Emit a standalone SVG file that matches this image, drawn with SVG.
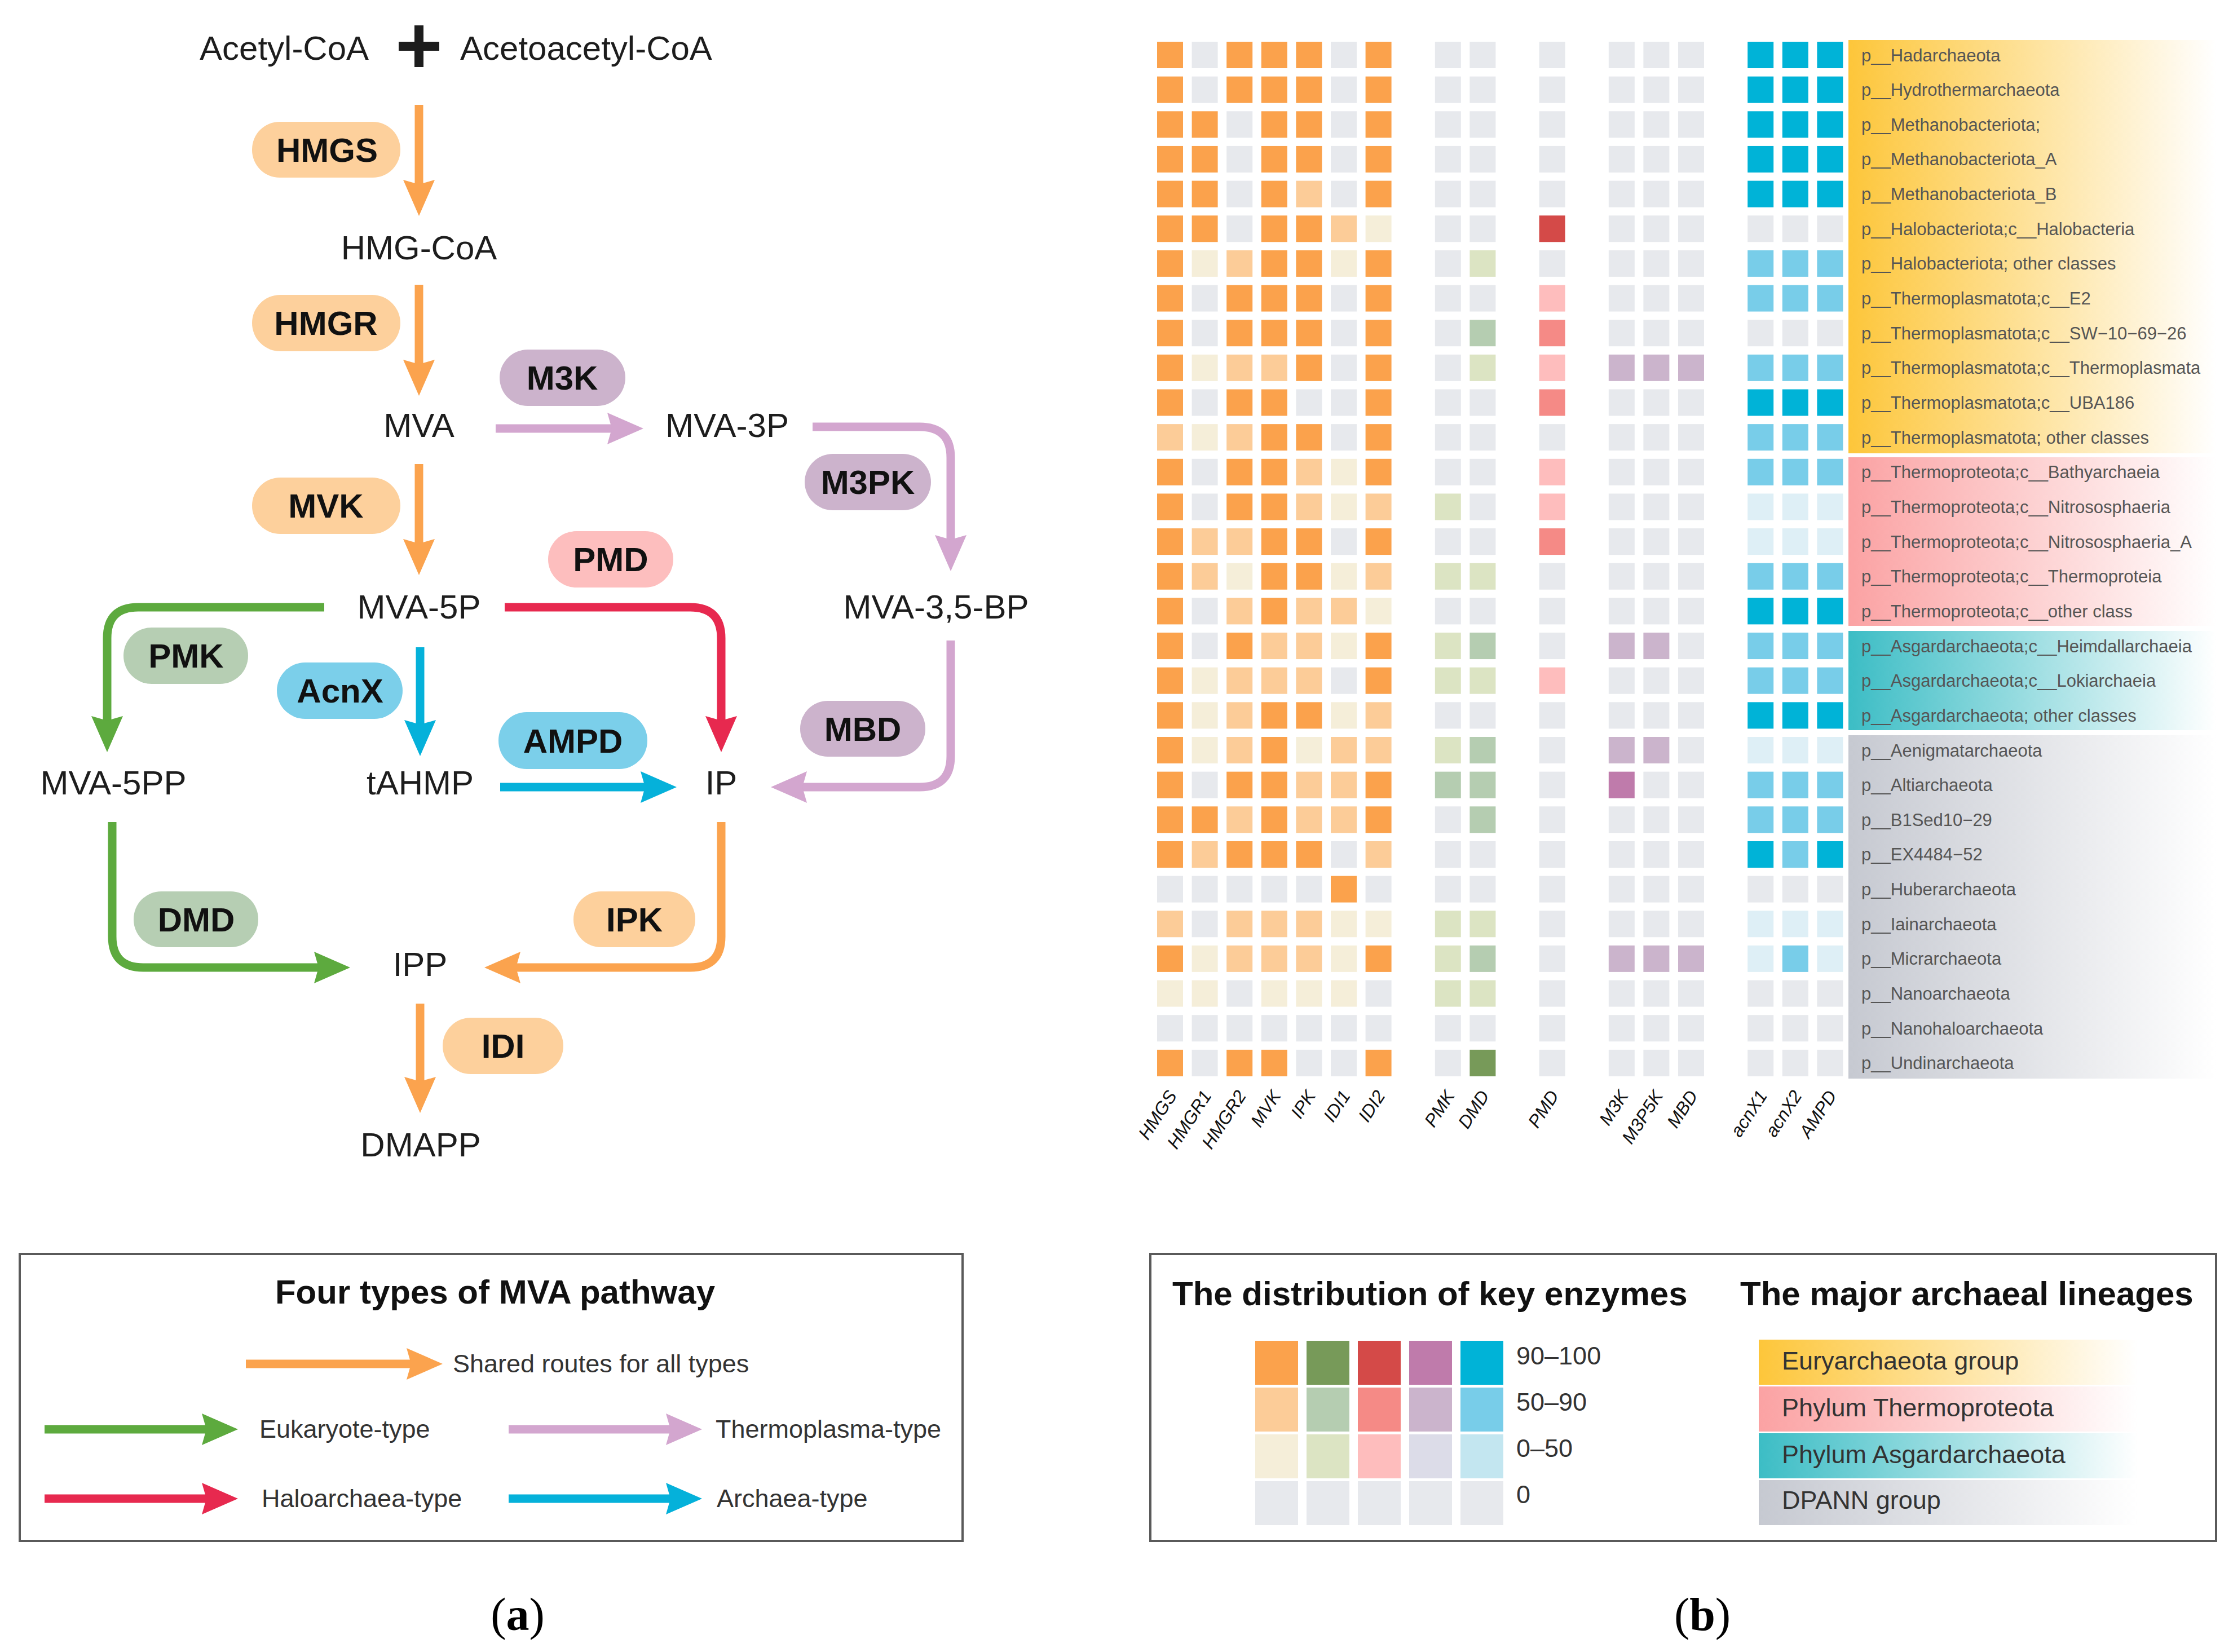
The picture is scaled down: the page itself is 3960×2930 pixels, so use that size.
<svg xmlns="http://www.w3.org/2000/svg" xmlns:xlink="http://www.w3.org/1999/xlink" width="3960" height="2930" viewBox="0 0 3960 2930">
<style>
text{font-family:"Liberation Sans",Arial,sans-serif}
.ent{font-size:60px;fill:#1d1d1d;text-anchor:middle}
.enz{font-size:60px;font-weight:bold;fill:#111;text-anchor:middle}
.po{fill:#FDD09C}.pp{fill:#CCB3CC}.pr{fill:#FDBEBE}.pg{fill:#B6CEB3}.pb{fill:#7BCFEA}
.ln{fill:none;stroke-width:15}
.so{stroke:#FBA34E}.sg{stroke:#5DAA3E}.sr{stroke:#E7294F}.sp{stroke:#D3A6CF}.sb{stroke:#05B1DA}
.z{fill:#E7E9ED}.o1{fill:#F5EED9}.o2{fill:#FCCC98}.o3{fill:#FBA24C}
.e1{fill:#DCE4C3}.e2{fill:#B5CDB1}.e3{fill:#779A59}
.r1{fill:#FEBDBD}.r2{fill:#F58A86}.r3{fill:#D44A48}
.p1{fill:#DCDCE8}.p2{fill:#CBB4CC}.p3{fill:#BF7BAB}
.b1{fill:#DEEFF6}.b2{fill:#78CDE9}.b3{fill:#00B3D7}.lb1{fill:#C3E6F0}
.lab{font-size:31px;fill:#555}
.col{font-size:32px;font-style:italic;fill:#111;text-anchor:end}
.box{fill:none;stroke:#5a5a5a;stroke-width:4}
.ttl{font-size:60px;font-weight:bold;fill:#111}
.lt{font-size:45px;fill:#333}
</style>
<defs>
<rect id="c" width="46" height="47"/>
<marker id="mo" viewBox="0 0 64 56" refX="30" refY="28" markerWidth="64" markerHeight="56" markerUnits="userSpaceOnUse" orient="auto"><path d="M0,0 L64,28 L0,56 L8,28 Z" fill="#FBA34E"/></marker>
<marker id="mg" viewBox="0 0 64 56" refX="30" refY="28" markerWidth="64" markerHeight="56" markerUnits="userSpaceOnUse" orient="auto"><path d="M0,0 L64,28 L0,56 L8,28 Z" fill="#5DAA3E"/></marker>
<marker id="mr" viewBox="0 0 64 56" refX="30" refY="28" markerWidth="64" markerHeight="56" markerUnits="userSpaceOnUse" orient="auto"><path d="M0,0 L64,28 L0,56 L8,28 Z" fill="#E7294F"/></marker>
<marker id="mp" viewBox="0 0 64 56" refX="30" refY="28" markerWidth="64" markerHeight="56" markerUnits="userSpaceOnUse" orient="auto"><path d="M0,0 L64,28 L0,56 L8,28 Z" fill="#D3A6CF"/></marker>
<marker id="mb" viewBox="0 0 64 56" refX="30" refY="28" markerWidth="64" markerHeight="56" markerUnits="userSpaceOnUse" orient="auto"><path d="M0,0 L64,28 L0,56 L8,28 Z" fill="#05B1DA"/></marker>
<linearGradient id="gy"><stop offset="0" stop-color="#FDC63A"/><stop offset="1" stop-color="#FDC63A" stop-opacity="0"/></linearGradient>
<linearGradient id="gp"><stop offset="0" stop-color="#FBA2A3"/><stop offset="1" stop-color="#FBA2A3" stop-opacity="0"/></linearGradient>
<linearGradient id="gt"><stop offset="0" stop-color="#3CBDC5"/><stop offset="1" stop-color="#3CBDC5" stop-opacity="0"/></linearGradient>
<linearGradient id="gd"><stop offset="0" stop-color="#C6C9D1"/><stop offset="1" stop-color="#C6C9D1" stop-opacity="0"/></linearGradient>
</defs>
<rect width="3960" height="2930" fill="#fff"/>

<!-- ===== Panel (a): pathway ===== -->
<g id="connectors">
<path class="ln so" d="M743,186 V349" marker-end="url(#mo)"/>
<path class="ln so" d="M743,505 V668" marker-end="url(#mo)"/>
<path class="ln so" d="M743,823 V986" marker-end="url(#mo)"/>
<path class="ln sp" d="M879,760 H1107" marker-end="url(#mp)"/>
<path class="ln sp" d="M1441,757 H1631 Q1686,757 1686,812 V979" marker-end="url(#mp)"/>
<path class="ln sg" d="M575,1077 H245 Q190,1077 190,1132 V1300" marker-end="url(#mg)"/>
<path class="ln sr" d="M895,1077 H1224 Q1279,1077 1279,1132 V1300" marker-end="url(#mr)"/>
<path class="ln sb" d="M745,1148 V1307" marker-end="url(#mb)"/>
<path class="ln sb" d="M887,1396 H1166" marker-end="url(#mb)"/>
<path class="ln sp" d="M1686,1136 V1341 Q1686,1396 1631,1396 H1401" marker-end="url(#mp)"/>
<path class="ln so" d="M1279,1458 V1661 Q1279,1716 1224,1716 H893" marker-end="url(#mo)"/>
<path class="ln sg" d="M199,1458 V1661 Q199,1716 254,1716 H587" marker-end="url(#mg)"/>
<path class="ln so" d="M745,1780 V1940" marker-end="url(#mo)"/>
</g>

<g id="n-acetylcoa"><text class="ent" x="354" y="106" style="text-anchor:start">Acetyl-CoA</text></g>
<g id="n-plus"><path d="M707,82 H779 M743,45 V119" stroke="#1d1d1d" stroke-width="16" fill="none"/></g>
<g id="n-acetoacetylcoa"><text class="ent" x="816" y="106" style="text-anchor:start">Acetoacetyl-CoA</text></g>
<g id="n-hmgcoa"><text class="ent" x="743" y="460">HMG-CoA</text></g>
<g id="n-mva"><text class="ent" x="743" y="775">MVA</text></g>
<g id="n-mva3p"><text class="ent" x="1180" y="775" style="text-anchor:start">MVA-3P</text></g>
<g id="n-mva5p"><text class="ent" x="743" y="1097">MVA-5P</text></g>
<g id="n-mva35bp"><text class="ent" x="1660" y="1097">MVA-3,5-BP</text></g>
<g id="n-mva5pp"><text class="ent" x="201" y="1409">MVA-5PP</text></g>
<g id="n-tahmp"><text class="ent" x="745" y="1409">tAHMP</text></g>
<g id="n-ip"><text class="ent" x="1279" y="1409">IP</text></g>
<g id="n-ipp"><text class="ent" x="745" y="1731">IPP</text></g>
<g id="n-dmapp"><text class="ent" x="746" y="2051">DMAPP</text></g>

<g id="e-hmgs"><rect class="po" x="447" y="216" width="263" height="99" rx="49"/><text class="enz" x="580" y="287">HMGS</text></g>
<g id="e-hmgr"><rect class="po" x="447" y="523" width="263" height="100" rx="50"/><text class="enz" x="578" y="594">HMGR</text></g>
<g id="e-mvk"><rect class="po" x="447" y="847" width="263" height="100" rx="50"/><text class="enz" x="578" y="918">MVK</text></g>
<g id="e-m3k"><rect class="pp" x="886" y="620" width="223" height="100" rx="50"/><text class="enz" x="997" y="691">M3K</text></g>
<g id="e-m3pk"><rect class="pp" x="1427" y="805" width="224" height="100" rx="50"/><text class="enz" x="1539" y="876">M3PK</text></g>
<g id="e-pmd"><rect class="pr" x="972" y="942" width="222" height="100" rx="50"/><text class="enz" x="1083" y="1013">PMD</text></g>
<g id="e-pmk"><rect class="pg" x="219" y="1113" width="221" height="100" rx="50"/><text class="enz" x="330" y="1184">PMK</text></g>
<g id="e-acnx"><rect class="pb" x="491" y="1175" width="223" height="100" rx="50"/><text class="enz" x="603" y="1246">AcnX</text></g>
<g id="e-ampd"><rect class="pb" x="884" y="1263" width="264" height="101" rx="50"/><text class="enz" x="1016" y="1335">AMPD</text></g>
<g id="e-mbd"><rect class="pp" x="1419" y="1243" width="222" height="99" rx="49"/><text class="enz" x="1530" y="1314">MBD</text></g>
<g id="e-ipk"><rect class="po" x="1017" y="1581" width="216" height="99" rx="49"/><text class="enz" x="1125" y="1652">IPK</text></g>
<g id="e-dmd"><rect class="pg" x="237" y="1581" width="221" height="99" rx="49"/><text class="enz" x="348" y="1652">DMD</text></g>
<g id="e-idi"><rect class="po" x="785" y="1805" width="214" height="100" rx="50"/><text class="enz" x="892" y="1876">IDI</text></g>

<!-- Legend (a) -->
<g id="legend-a">
<rect class="box" x="35" y="2224" width="1672" height="509"/>
<text class="ttl" x="878" y="2312" text-anchor="middle">Four types of MVA pathway</text>
<path class="ln so" d="M436,2419 H751" marker-end="url(#mo)"/>
<text class="lt" x="803" y="2434">Shared routes for all types</text>
<path class="ln sg" d="M79,2535 H388" marker-end="url(#mg)"/>
<text class="lt" x="460" y="2550">Eukaryote-type</text>
<path class="ln sp" d="M902,2535 H1211" marker-end="url(#mp)"/>
<text class="lt" x="1269" y="2550">Thermoplasma-type</text>
<path class="ln sr" d="M79,2658 H388" marker-end="url(#mr)"/>
<text class="lt" x="464" y="2673">Haloarchaea-type</text>
<path class="ln sb" d="M902,2658 H1211" marker-end="url(#mb)"/>
<text class="lt" x="1271" y="2673">Archaea-type</text>
</g>

<!-- ===== Panel (b): heatmap ===== -->
<g id="lineage-bands">
<rect x="3278" y="71" width="652" height="733" fill="url(#gy)"/>
<rect x="3278" y="811" width="652" height="299" fill="url(#gp)"/>
<rect x="3278" y="1119" width="652" height="176" fill="url(#gt)"/>
<rect x="3278" y="1304" width="652" height="609" fill="url(#gd)"/>
</g>

<g id="heatmap">
<g transform="translate(0,74)"><use href="#c" x="2052" class="o3"/><use href="#c" x="2113.6" class="z"/><use href="#c" x="2175.2" class="o3"/><use href="#c" x="2236.8" class="o3"/><use href="#c" x="2298.4" class="o3"/><use href="#c" x="2360" class="z"/><use href="#c" x="2421.6" class="o3"/><use href="#c" x="2544.8" class="z"/><use href="#c" x="2606.4" class="z"/><use href="#c" x="2729.6" class="z"/><use href="#c" x="2852.8" class="z"/><use href="#c" x="2914.4" class="z"/><use href="#c" x="2976" class="z"/><use href="#c" x="3099.2" class="b3"/><use href="#c" x="3160.8" class="b3"/><use href="#c" x="3222.4" class="b3"/></g>
<g transform="translate(0,135.65)"><use href="#c" x="2052" class="o3"/><use href="#c" x="2113.6" class="z"/><use href="#c" x="2175.2" class="o3"/><use href="#c" x="2236.8" class="o3"/><use href="#c" x="2298.4" class="o3"/><use href="#c" x="2360" class="z"/><use href="#c" x="2421.6" class="o3"/><use href="#c" x="2544.8" class="z"/><use href="#c" x="2606.4" class="z"/><use href="#c" x="2729.6" class="z"/><use href="#c" x="2852.8" class="z"/><use href="#c" x="2914.4" class="z"/><use href="#c" x="2976" class="z"/><use href="#c" x="3099.2" class="b3"/><use href="#c" x="3160.8" class="b3"/><use href="#c" x="3222.4" class="b3"/></g>
<g transform="translate(0,197.3)"><use href="#c" x="2052" class="o3"/><use href="#c" x="2113.6" class="o3"/><use href="#c" x="2175.2" class="z"/><use href="#c" x="2236.8" class="o3"/><use href="#c" x="2298.4" class="o3"/><use href="#c" x="2360" class="z"/><use href="#c" x="2421.6" class="o3"/><use href="#c" x="2544.8" class="z"/><use href="#c" x="2606.4" class="z"/><use href="#c" x="2729.6" class="z"/><use href="#c" x="2852.8" class="z"/><use href="#c" x="2914.4" class="z"/><use href="#c" x="2976" class="z"/><use href="#c" x="3099.2" class="b3"/><use href="#c" x="3160.8" class="b3"/><use href="#c" x="3222.4" class="b3"/></g>
<g transform="translate(0,258.95)"><use href="#c" x="2052" class="o3"/><use href="#c" x="2113.6" class="o3"/><use href="#c" x="2175.2" class="z"/><use href="#c" x="2236.8" class="o3"/><use href="#c" x="2298.4" class="o3"/><use href="#c" x="2360" class="z"/><use href="#c" x="2421.6" class="o3"/><use href="#c" x="2544.8" class="z"/><use href="#c" x="2606.4" class="z"/><use href="#c" x="2729.6" class="z"/><use href="#c" x="2852.8" class="z"/><use href="#c" x="2914.4" class="z"/><use href="#c" x="2976" class="z"/><use href="#c" x="3099.2" class="b3"/><use href="#c" x="3160.8" class="b3"/><use href="#c" x="3222.4" class="b3"/></g>
<g transform="translate(0,320.6)"><use href="#c" x="2052" class="o3"/><use href="#c" x="2113.6" class="o3"/><use href="#c" x="2175.2" class="z"/><use href="#c" x="2236.8" class="o3"/><use href="#c" x="2298.4" class="o2"/><use href="#c" x="2360" class="z"/><use href="#c" x="2421.6" class="o3"/><use href="#c" x="2544.8" class="z"/><use href="#c" x="2606.4" class="z"/><use href="#c" x="2729.6" class="z"/><use href="#c" x="2852.8" class="z"/><use href="#c" x="2914.4" class="z"/><use href="#c" x="2976" class="z"/><use href="#c" x="3099.2" class="b3"/><use href="#c" x="3160.8" class="b3"/><use href="#c" x="3222.4" class="b3"/></g>
<g transform="translate(0,382.25)"><use href="#c" x="2052" class="o3"/><use href="#c" x="2113.6" class="o3"/><use href="#c" x="2175.2" class="z"/><use href="#c" x="2236.8" class="o3"/><use href="#c" x="2298.4" class="o3"/><use href="#c" x="2360" class="o2"/><use href="#c" x="2421.6" class="o1"/><use href="#c" x="2544.8" class="z"/><use href="#c" x="2606.4" class="z"/><use href="#c" x="2729.6" class="r3"/><use href="#c" x="2852.8" class="z"/><use href="#c" x="2914.4" class="z"/><use href="#c" x="2976" class="z"/><use href="#c" x="3099.2" class="z"/><use href="#c" x="3160.8" class="z"/><use href="#c" x="3222.4" class="z"/></g>
<g transform="translate(0,443.9)"><use href="#c" x="2052" class="o3"/><use href="#c" x="2113.6" class="o1"/><use href="#c" x="2175.2" class="o2"/><use href="#c" x="2236.8" class="o3"/><use href="#c" x="2298.4" class="o3"/><use href="#c" x="2360" class="o1"/><use href="#c" x="2421.6" class="o3"/><use href="#c" x="2544.8" class="z"/><use href="#c" x="2606.4" class="e1"/><use href="#c" x="2729.6" class="z"/><use href="#c" x="2852.8" class="z"/><use href="#c" x="2914.4" class="z"/><use href="#c" x="2976" class="z"/><use href="#c" x="3099.2" class="b2"/><use href="#c" x="3160.8" class="b2"/><use href="#c" x="3222.4" class="b2"/></g>
<g transform="translate(0,505.55)"><use href="#c" x="2052" class="o3"/><use href="#c" x="2113.6" class="z"/><use href="#c" x="2175.2" class="o3"/><use href="#c" x="2236.8" class="o3"/><use href="#c" x="2298.4" class="o3"/><use href="#c" x="2360" class="z"/><use href="#c" x="2421.6" class="o3"/><use href="#c" x="2544.8" class="z"/><use href="#c" x="2606.4" class="z"/><use href="#c" x="2729.6" class="r1"/><use href="#c" x="2852.8" class="z"/><use href="#c" x="2914.4" class="z"/><use href="#c" x="2976" class="z"/><use href="#c" x="3099.2" class="b2"/><use href="#c" x="3160.8" class="b2"/><use href="#c" x="3222.4" class="b2"/></g>
<g transform="translate(0,567.2)"><use href="#c" x="2052" class="o3"/><use href="#c" x="2113.6" class="z"/><use href="#c" x="2175.2" class="o3"/><use href="#c" x="2236.8" class="o3"/><use href="#c" x="2298.4" class="o3"/><use href="#c" x="2360" class="z"/><use href="#c" x="2421.6" class="o3"/><use href="#c" x="2544.8" class="z"/><use href="#c" x="2606.4" class="e2"/><use href="#c" x="2729.6" class="r2"/><use href="#c" x="2852.8" class="z"/><use href="#c" x="2914.4" class="z"/><use href="#c" x="2976" class="z"/><use href="#c" x="3099.2" class="z"/><use href="#c" x="3160.8" class="z"/><use href="#c" x="3222.4" class="z"/></g>
<g transform="translate(0,628.85)"><use href="#c" x="2052" class="o3"/><use href="#c" x="2113.6" class="o1"/><use href="#c" x="2175.2" class="o2"/><use href="#c" x="2236.8" class="o2"/><use href="#c" x="2298.4" class="o3"/><use href="#c" x="2360" class="z"/><use href="#c" x="2421.6" class="o3"/><use href="#c" x="2544.8" class="z"/><use href="#c" x="2606.4" class="e1"/><use href="#c" x="2729.6" class="r1"/><use href="#c" x="2852.8" class="p2"/><use href="#c" x="2914.4" class="p2"/><use href="#c" x="2976" class="p2"/><use href="#c" x="3099.2" class="b2"/><use href="#c" x="3160.8" class="b2"/><use href="#c" x="3222.4" class="b2"/></g>
<g transform="translate(0,690.5)"><use href="#c" x="2052" class="o3"/><use href="#c" x="2113.6" class="z"/><use href="#c" x="2175.2" class="o3"/><use href="#c" x="2236.8" class="o3"/><use href="#c" x="2298.4" class="z"/><use href="#c" x="2360" class="z"/><use href="#c" x="2421.6" class="o3"/><use href="#c" x="2544.8" class="z"/><use href="#c" x="2606.4" class="z"/><use href="#c" x="2729.6" class="r2"/><use href="#c" x="2852.8" class="z"/><use href="#c" x="2914.4" class="z"/><use href="#c" x="2976" class="z"/><use href="#c" x="3099.2" class="b3"/><use href="#c" x="3160.8" class="b3"/><use href="#c" x="3222.4" class="b3"/></g>
<g transform="translate(0,752.15)"><use href="#c" x="2052" class="o2"/><use href="#c" x="2113.6" class="o1"/><use href="#c" x="2175.2" class="o2"/><use href="#c" x="2236.8" class="o3"/><use href="#c" x="2298.4" class="o3"/><use href="#c" x="2360" class="z"/><use href="#c" x="2421.6" class="o3"/><use href="#c" x="2544.8" class="z"/><use href="#c" x="2606.4" class="z"/><use href="#c" x="2729.6" class="z"/><use href="#c" x="2852.8" class="z"/><use href="#c" x="2914.4" class="z"/><use href="#c" x="2976" class="z"/><use href="#c" x="3099.2" class="b2"/><use href="#c" x="3160.8" class="b2"/><use href="#c" x="3222.4" class="b2"/></g>
<g transform="translate(0,813.8)"><use href="#c" x="2052" class="o3"/><use href="#c" x="2113.6" class="z"/><use href="#c" x="2175.2" class="o3"/><use href="#c" x="2236.8" class="o3"/><use href="#c" x="2298.4" class="o2"/><use href="#c" x="2360" class="o1"/><use href="#c" x="2421.6" class="o3"/><use href="#c" x="2544.8" class="z"/><use href="#c" x="2606.4" class="z"/><use href="#c" x="2729.6" class="r1"/><use href="#c" x="2852.8" class="z"/><use href="#c" x="2914.4" class="z"/><use href="#c" x="2976" class="z"/><use href="#c" x="3099.2" class="b2"/><use href="#c" x="3160.8" class="b2"/><use href="#c" x="3222.4" class="b2"/></g>
<g transform="translate(0,875.45)"><use href="#c" x="2052" class="o3"/><use href="#c" x="2113.6" class="z"/><use href="#c" x="2175.2" class="o3"/><use href="#c" x="2236.8" class="o3"/><use href="#c" x="2298.4" class="o2"/><use href="#c" x="2360" class="o1"/><use href="#c" x="2421.6" class="o2"/><use href="#c" x="2544.8" class="e1"/><use href="#c" x="2606.4" class="z"/><use href="#c" x="2729.6" class="r1"/><use href="#c" x="2852.8" class="z"/><use href="#c" x="2914.4" class="z"/><use href="#c" x="2976" class="z"/><use href="#c" x="3099.2" class="b1"/><use href="#c" x="3160.8" class="b1"/><use href="#c" x="3222.4" class="b1"/></g>
<g transform="translate(0,937.1)"><use href="#c" x="2052" class="o3"/><use href="#c" x="2113.6" class="o2"/><use href="#c" x="2175.2" class="o2"/><use href="#c" x="2236.8" class="o3"/><use href="#c" x="2298.4" class="o3"/><use href="#c" x="2360" class="z"/><use href="#c" x="2421.6" class="o3"/><use href="#c" x="2544.8" class="z"/><use href="#c" x="2606.4" class="z"/><use href="#c" x="2729.6" class="r2"/><use href="#c" x="2852.8" class="z"/><use href="#c" x="2914.4" class="z"/><use href="#c" x="2976" class="z"/><use href="#c" x="3099.2" class="b1"/><use href="#c" x="3160.8" class="b1"/><use href="#c" x="3222.4" class="b1"/></g>
<g transform="translate(0,998.75)"><use href="#c" x="2052" class="o3"/><use href="#c" x="2113.6" class="o2"/><use href="#c" x="2175.2" class="o1"/><use href="#c" x="2236.8" class="o3"/><use href="#c" x="2298.4" class="o3"/><use href="#c" x="2360" class="o1"/><use href="#c" x="2421.6" class="o2"/><use href="#c" x="2544.8" class="e1"/><use href="#c" x="2606.4" class="e1"/><use href="#c" x="2729.6" class="z"/><use href="#c" x="2852.8" class="z"/><use href="#c" x="2914.4" class="z"/><use href="#c" x="2976" class="z"/><use href="#c" x="3099.2" class="b2"/><use href="#c" x="3160.8" class="b2"/><use href="#c" x="3222.4" class="b2"/></g>
<g transform="translate(0,1060.4)"><use href="#c" x="2052" class="o3"/><use href="#c" x="2113.6" class="z"/><use href="#c" x="2175.2" class="o2"/><use href="#c" x="2236.8" class="o3"/><use href="#c" x="2298.4" class="o2"/><use href="#c" x="2360" class="o2"/><use href="#c" x="2421.6" class="o1"/><use href="#c" x="2544.8" class="z"/><use href="#c" x="2606.4" class="z"/><use href="#c" x="2729.6" class="z"/><use href="#c" x="2852.8" class="z"/><use href="#c" x="2914.4" class="z"/><use href="#c" x="2976" class="z"/><use href="#c" x="3099.2" class="b3"/><use href="#c" x="3160.8" class="b3"/><use href="#c" x="3222.4" class="b3"/></g>
<g transform="translate(0,1122.05)"><use href="#c" x="2052" class="o3"/><use href="#c" x="2113.6" class="z"/><use href="#c" x="2175.2" class="o3"/><use href="#c" x="2236.8" class="o2"/><use href="#c" x="2298.4" class="o2"/><use href="#c" x="2360" class="o1"/><use href="#c" x="2421.6" class="o3"/><use href="#c" x="2544.8" class="e1"/><use href="#c" x="2606.4" class="e2"/><use href="#c" x="2729.6" class="z"/><use href="#c" x="2852.8" class="p2"/><use href="#c" x="2914.4" class="p2"/><use href="#c" x="2976" class="z"/><use href="#c" x="3099.2" class="b2"/><use href="#c" x="3160.8" class="b2"/><use href="#c" x="3222.4" class="b2"/></g>
<g transform="translate(0,1183.7)"><use href="#c" x="2052" class="o3"/><use href="#c" x="2113.6" class="o1"/><use href="#c" x="2175.2" class="o2"/><use href="#c" x="2236.8" class="o2"/><use href="#c" x="2298.4" class="o2"/><use href="#c" x="2360" class="z"/><use href="#c" x="2421.6" class="o3"/><use href="#c" x="2544.8" class="e1"/><use href="#c" x="2606.4" class="e1"/><use href="#c" x="2729.6" class="r1"/><use href="#c" x="2852.8" class="z"/><use href="#c" x="2914.4" class="z"/><use href="#c" x="2976" class="z"/><use href="#c" x="3099.2" class="b2"/><use href="#c" x="3160.8" class="b2"/><use href="#c" x="3222.4" class="b2"/></g>
<g transform="translate(0,1245.35)"><use href="#c" x="2052" class="o3"/><use href="#c" x="2113.6" class="o1"/><use href="#c" x="2175.2" class="o2"/><use href="#c" x="2236.8" class="o3"/><use href="#c" x="2298.4" class="o3"/><use href="#c" x="2360" class="o1"/><use href="#c" x="2421.6" class="o2"/><use href="#c" x="2544.8" class="z"/><use href="#c" x="2606.4" class="z"/><use href="#c" x="2729.6" class="z"/><use href="#c" x="2852.8" class="z"/><use href="#c" x="2914.4" class="z"/><use href="#c" x="2976" class="z"/><use href="#c" x="3099.2" class="b3"/><use href="#c" x="3160.8" class="b3"/><use href="#c" x="3222.4" class="b3"/></g>
<g transform="translate(0,1307)"><use href="#c" x="2052" class="o3"/><use href="#c" x="2113.6" class="o1"/><use href="#c" x="2175.2" class="o2"/><use href="#c" x="2236.8" class="o3"/><use href="#c" x="2298.4" class="o1"/><use href="#c" x="2360" class="o2"/><use href="#c" x="2421.6" class="o2"/><use href="#c" x="2544.8" class="e1"/><use href="#c" x="2606.4" class="e2"/><use href="#c" x="2729.6" class="z"/><use href="#c" x="2852.8" class="p2"/><use href="#c" x="2914.4" class="p2"/><use href="#c" x="2976" class="z"/><use href="#c" x="3099.2" class="b1"/><use href="#c" x="3160.8" class="b1"/><use href="#c" x="3222.4" class="b1"/></g>
<g transform="translate(0,1368.65)"><use href="#c" x="2052" class="o3"/><use href="#c" x="2113.6" class="z"/><use href="#c" x="2175.2" class="o3"/><use href="#c" x="2236.8" class="o3"/><use href="#c" x="2298.4" class="o2"/><use href="#c" x="2360" class="o2"/><use href="#c" x="2421.6" class="o3"/><use href="#c" x="2544.8" class="e2"/><use href="#c" x="2606.4" class="e2"/><use href="#c" x="2729.6" class="z"/><use href="#c" x="2852.8" class="p3"/><use href="#c" x="2914.4" class="z"/><use href="#c" x="2976" class="z"/><use href="#c" x="3099.2" class="b2"/><use href="#c" x="3160.8" class="b2"/><use href="#c" x="3222.4" class="b2"/></g>
<g transform="translate(0,1430.3)"><use href="#c" x="2052" class="o3"/><use href="#c" x="2113.6" class="o3"/><use href="#c" x="2175.2" class="o2"/><use href="#c" x="2236.8" class="o3"/><use href="#c" x="2298.4" class="o2"/><use href="#c" x="2360" class="o2"/><use href="#c" x="2421.6" class="o3"/><use href="#c" x="2544.8" class="z"/><use href="#c" x="2606.4" class="e2"/><use href="#c" x="2729.6" class="z"/><use href="#c" x="2852.8" class="z"/><use href="#c" x="2914.4" class="z"/><use href="#c" x="2976" class="z"/><use href="#c" x="3099.2" class="b2"/><use href="#c" x="3160.8" class="b2"/><use href="#c" x="3222.4" class="b2"/></g>
<g transform="translate(0,1491.95)"><use href="#c" x="2052" class="o3"/><use href="#c" x="2113.6" class="o2"/><use href="#c" x="2175.2" class="o3"/><use href="#c" x="2236.8" class="o3"/><use href="#c" x="2298.4" class="o3"/><use href="#c" x="2360" class="z"/><use href="#c" x="2421.6" class="o2"/><use href="#c" x="2544.8" class="z"/><use href="#c" x="2606.4" class="z"/><use href="#c" x="2729.6" class="z"/><use href="#c" x="2852.8" class="z"/><use href="#c" x="2914.4" class="z"/><use href="#c" x="2976" class="z"/><use href="#c" x="3099.2" class="b3"/><use href="#c" x="3160.8" class="b2"/><use href="#c" x="3222.4" class="b3"/></g>
<g transform="translate(0,1553.6)"><use href="#c" x="2052" class="z"/><use href="#c" x="2113.6" class="z"/><use href="#c" x="2175.2" class="z"/><use href="#c" x="2236.8" class="z"/><use href="#c" x="2298.4" class="z"/><use href="#c" x="2360" class="o3"/><use href="#c" x="2421.6" class="z"/><use href="#c" x="2544.8" class="z"/><use href="#c" x="2606.4" class="z"/><use href="#c" x="2729.6" class="z"/><use href="#c" x="2852.8" class="z"/><use href="#c" x="2914.4" class="z"/><use href="#c" x="2976" class="z"/><use href="#c" x="3099.2" class="z"/><use href="#c" x="3160.8" class="z"/><use href="#c" x="3222.4" class="z"/></g>
<g transform="translate(0,1615.25)"><use href="#c" x="2052" class="o2"/><use href="#c" x="2113.6" class="z"/><use href="#c" x="2175.2" class="o2"/><use href="#c" x="2236.8" class="o2"/><use href="#c" x="2298.4" class="o2"/><use href="#c" x="2360" class="o1"/><use href="#c" x="2421.6" class="o1"/><use href="#c" x="2544.8" class="e1"/><use href="#c" x="2606.4" class="e1"/><use href="#c" x="2729.6" class="z"/><use href="#c" x="2852.8" class="z"/><use href="#c" x="2914.4" class="z"/><use href="#c" x="2976" class="z"/><use href="#c" x="3099.2" class="b1"/><use href="#c" x="3160.8" class="b1"/><use href="#c" x="3222.4" class="b1"/></g>
<g transform="translate(0,1676.9)"><use href="#c" x="2052" class="o3"/><use href="#c" x="2113.6" class="o1"/><use href="#c" x="2175.2" class="o2"/><use href="#c" x="2236.8" class="o2"/><use href="#c" x="2298.4" class="o2"/><use href="#c" x="2360" class="o1"/><use href="#c" x="2421.6" class="o3"/><use href="#c" x="2544.8" class="e1"/><use href="#c" x="2606.4" class="e2"/><use href="#c" x="2729.6" class="z"/><use href="#c" x="2852.8" class="p2"/><use href="#c" x="2914.4" class="p2"/><use href="#c" x="2976" class="p2"/><use href="#c" x="3099.2" class="b1"/><use href="#c" x="3160.8" class="b2"/><use href="#c" x="3222.4" class="b1"/></g>
<g transform="translate(0,1738.55)"><use href="#c" x="2052" class="o1"/><use href="#c" x="2113.6" class="o1"/><use href="#c" x="2175.2" class="z"/><use href="#c" x="2236.8" class="o1"/><use href="#c" x="2298.4" class="o1"/><use href="#c" x="2360" class="o1"/><use href="#c" x="2421.6" class="z"/><use href="#c" x="2544.8" class="e1"/><use href="#c" x="2606.4" class="e1"/><use href="#c" x="2729.6" class="z"/><use href="#c" x="2852.8" class="z"/><use href="#c" x="2914.4" class="z"/><use href="#c" x="2976" class="z"/><use href="#c" x="3099.2" class="z"/><use href="#c" x="3160.8" class="z"/><use href="#c" x="3222.4" class="z"/></g>
<g transform="translate(0,1800.2)"><use href="#c" x="2052" class="z"/><use href="#c" x="2113.6" class="z"/><use href="#c" x="2175.2" class="z"/><use href="#c" x="2236.8" class="z"/><use href="#c" x="2298.4" class="z"/><use href="#c" x="2360" class="z"/><use href="#c" x="2421.6" class="z"/><use href="#c" x="2544.8" class="z"/><use href="#c" x="2606.4" class="z"/><use href="#c" x="2729.6" class="z"/><use href="#c" x="2852.8" class="z"/><use href="#c" x="2914.4" class="z"/><use href="#c" x="2976" class="z"/><use href="#c" x="3099.2" class="z"/><use href="#c" x="3160.8" class="z"/><use href="#c" x="3222.4" class="z"/></g>
<g transform="translate(0,1861.85)"><use href="#c" x="2052" class="o3"/><use href="#c" x="2113.6" class="z"/><use href="#c" x="2175.2" class="o3"/><use href="#c" x="2236.8" class="o3"/><use href="#c" x="2298.4" class="z"/><use href="#c" x="2360" class="z"/><use href="#c" x="2421.6" class="o3"/><use href="#c" x="2544.8" class="z"/><use href="#c" x="2606.4" class="e3"/><use href="#c" x="2729.6" class="z"/><use href="#c" x="2852.8" class="z"/><use href="#c" x="2914.4" class="z"/><use href="#c" x="2976" class="z"/><use href="#c" x="3099.2" class="z"/><use href="#c" x="3160.8" class="z"/><use href="#c" x="3222.4" class="z"/></g>
</g>

<g id="row-labels">
<text class="lab" x="3301" y="108.5">p__Hadarchaeota</text>
<text class="lab" x="3301" y="170.15">p__Hydrothermarchaeota</text>
<text class="lab" x="3301" y="231.8">p__Methanobacteriota;</text>
<text class="lab" x="3301" y="293.45">p__Methanobacteriota_A</text>
<text class="lab" x="3301" y="355.1">p__Methanobacteriota_B</text>
<text class="lab" x="3301" y="416.75">p__Halobacteriota;c__Halobacteria</text>
<text class="lab" x="3301" y="478.4">p__Halobacteriota; other classes</text>
<text class="lab" x="3301" y="540.05">p__Thermoplasmatota;c__E2</text>
<text class="lab" x="3301" y="601.7">p__Thermoplasmatota;c__SW−10−69−26</text>
<text class="lab" x="3301" y="663.35">p__Thermoplasmatota;c__Thermoplasmata</text>
<text class="lab" x="3301" y="725">p__Thermoplasmatota;c__UBA186</text>
<text class="lab" x="3301" y="786.65">p__Thermoplasmatota; other classes</text>
<text class="lab" x="3301" y="848.3">p__Thermoproteota;c__Bathyarchaeia</text>
<text class="lab" x="3301" y="909.95">p__Thermoproteota;c__Nitrososphaeria</text>
<text class="lab" x="3301" y="971.6">p__Thermoproteota;c__Nitrososphaeria_A</text>
<text class="lab" x="3301" y="1033.25">p__Thermoproteota;c__Thermoproteia</text>
<text class="lab" x="3301" y="1094.9">p__Thermoproteota;c__other class</text>
<text class="lab" x="3301" y="1156.55">p__Asgardarchaeota;c__Heimdallarchaeia</text>
<text class="lab" x="3301" y="1218.2">p__Asgardarchaeota;c__Lokiarchaeia</text>
<text class="lab" x="3301" y="1279.85">p__Asgardarchaeota; other classes</text>
<text class="lab" x="3301" y="1341.5">p__Aenigmatarchaeota</text>
<text class="lab" x="3301" y="1403.15">p__Altiarchaeota</text>
<text class="lab" x="3301" y="1464.8">p__B1Sed10−29</text>
<text class="lab" x="3301" y="1526.45">p__EX4484−52</text>
<text class="lab" x="3301" y="1588.1">p__Huberarchaeota</text>
<text class="lab" x="3301" y="1649.75">p__Iainarchaeota</text>
<text class="lab" x="3301" y="1711.4">p__Micrarchaeota</text>
<text class="lab" x="3301" y="1773.05">p__Nanoarchaeota</text>
<text class="lab" x="3301" y="1834.7">p__Nanohaloarchaeota</text>
<text class="lab" x="3301" y="1896.35">p__Undinarchaeota</text>
</g>

<g id="col-labels">
<text class="col" transform="translate(2088,1943) rotate(-57)">HMGS</text>
<text class="col" transform="translate(2149.6,1943) rotate(-57)">HMGR1</text>
<text class="col" transform="translate(2211.2,1943) rotate(-57)">HMGR2</text>
<text class="col" transform="translate(2272.8,1943) rotate(-57)">MVK</text>
<text class="col" transform="translate(2334.4,1943) rotate(-57)">IPK</text>
<text class="col" transform="translate(2396,1943) rotate(-57)">IDI1</text>
<text class="col" transform="translate(2457.6,1943) rotate(-57)">IDI2</text>
<text class="col" transform="translate(2580.8,1943) rotate(-57)">PMK</text>
<text class="col" transform="translate(2642.4,1943) rotate(-57)">DMD</text>
<text class="col" transform="translate(2765.6,1943) rotate(-57)">PMD</text>
<text class="col" transform="translate(2888.8,1943) rotate(-57)">M3K</text>
<text class="col" transform="translate(2950.4,1943) rotate(-57)">M3P5K</text>
<text class="col" transform="translate(3012,1943) rotate(-57)">MBD</text>
<text class="col" transform="translate(3135.2,1943) rotate(-57)">acnX1</text>
<text class="col" transform="translate(3196.8,1943) rotate(-57)">acnX2</text>
<text class="col" transform="translate(3258.4,1943) rotate(-57)">AMPD</text>
</g>

<!-- Legend (b) -->
<g id="legend-b">
<rect class="box" x="2040" y="2224" width="1890" height="509"/>
<text class="ttl" x="2079" y="2315">The distribution of key enzymes</text>
<text class="ttl" x="3086" y="2315">The major archaeal lineages</text>
<g id="swatches">
<rect class="o3" x="2226" y="2378" width="76" height="78"/><rect class="e3" x="2317" y="2378" width="76" height="78"/><rect class="r3" x="2408" y="2378" width="76" height="78"/><rect class="p3" x="2499" y="2378" width="76" height="78"/><rect class="b3" x="2590" y="2378" width="76" height="78"/>
<rect class="o2" x="2226" y="2461" width="76" height="78"/><rect class="e2" x="2317" y="2461" width="76" height="78"/><rect class="r2" x="2408" y="2461" width="76" height="78"/><rect class="p2" x="2499" y="2461" width="76" height="78"/><rect class="b2" x="2590" y="2461" width="76" height="78"/>
<rect class="o1" x="2226" y="2544" width="76" height="78"/><rect class="e1" x="2317" y="2544" width="76" height="78"/><rect class="r1" x="2408" y="2544" width="76" height="78"/><rect class="p1" x="2499" y="2544" width="76" height="78"/><rect class="lb1" x="2590" y="2544" width="76" height="78"/>
<rect class="z" x="2226" y="2627" width="76" height="78"/><rect class="z" x="2317" y="2627" width="76" height="78"/><rect class="z" x="2408" y="2627" width="76" height="78"/><rect class="z" x="2499" y="2627" width="76" height="78"/><rect class="z" x="2590" y="2627" width="76" height="78"/>
</g>
<text class="lt" x="2689" y="2420">90–100</text>
<text class="lt" x="2689" y="2502">50–90</text>
<text class="lt" x="2689" y="2584">0–50</text>
<text class="lt" x="2689" y="2666">0</text>
<rect x="3119" y="2376" width="672" height="80" fill="url(#gy)"/>
<rect x="3119" y="2459" width="672" height="80" fill="url(#gp)"/>
<rect x="3119" y="2542" width="672" height="80" fill="url(#gt)"/>
<rect x="3119" y="2625" width="672" height="80" fill="url(#gd)"/>
<text class="lt" x="3160" y="2429">Euryarchaeota group</text>
<text class="lt" x="3160" y="2512">Phylum Thermoproteota</text>
<text class="lt" x="3160" y="2595">Phylum Asgardarchaeota</text>
<text class="lt" x="3160" y="2676">DPANN group</text>
</g>

<g id="panel-labels" style="font-family:'Liberation Serif','Times New Roman',serif;font-size:82px;fill:#000">
<text x="918" y="2891" text-anchor="middle" style="font-family:'Liberation Serif','Times New Roman',serif">(<tspan font-weight="bold">a</tspan>)</text>
<text x="3019" y="2891" text-anchor="middle" style="font-family:'Liberation Serif','Times New Roman',serif">(<tspan font-weight="bold">b</tspan>)</text>
</g>
</svg>
